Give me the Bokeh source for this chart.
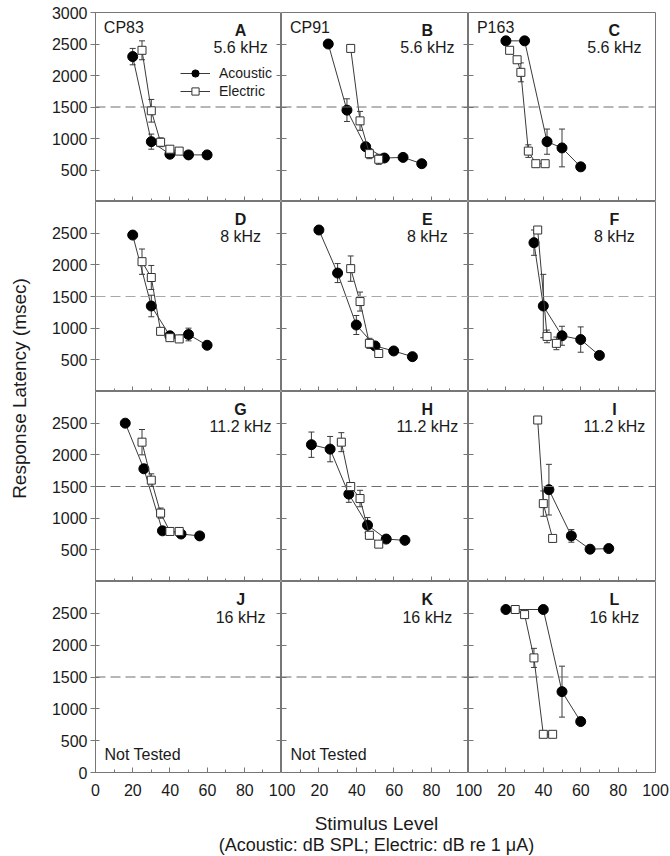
import math
from bokeh.plotting import figure
from bokeh.models import (LinearAxis, FixedTicker, Span, Label, Whisker, TeeHead,
                          ColumnDataSource, Range1d, Legend, LegendItem)
from bokeh.layouts import row, column
from bokeh.embed import file_html
from bokeh.resources import INLINE

# ---------------- data ----------------
subjects = ["CP83", "CP91", "P163"]
frequencies = ["5.6 kHz", "8 kHz", "11.2 kHz", "16 kHz"]
panel_letters = [["A", "B", "C"], ["D", "E", "F"], ["G", "H", "I"], ["J", "K", "L"]]
not_tested = ["J", "K"]
x_tick_values = [0, 20, 40, 60, 80, 100]
x_minor_values = [10, 30, 50, 70, 90]
x_tick_labels_col1 = ["0", "20", "40", "60", "80", "100"]
x_tick_labels_other = ["20", "40", "60", "80", "100"]
y_ticks_by_row = [[500, 1000, 1500, 2000, 2500, 3000],
                  [500, 1000, 1500, 2000, 2500],
                  [500, 1000, 1500, 2000, 2500],
                  [0, 500, 1000, 1500, 2000, 2500]]
y_inner_ticks = [500, 1000, 1500, 2000, 2500]
criterion_latency = 1500

# acoustic (filled circles) / electric (open squares); err = error bar half-length
A_ac_x = [20, 30, 40, 50, 60]
A_ac_y = [2300, 950, 750, 740, 740]
A_ac_err = [130, 120, 0, 0, 0]
A_el_x = [25, 30, 35, 40, 45]
A_el_y = [2400, 1440, 940, 830, 800]
A_el_err = [150, 180, 70, 0, 50]

B_ac_x = [25, 35, 45, 55, 65, 75]
B_ac_y = [2500, 1450, 870, 690, 700, 600]
B_ac_err = [0, 180, 0, 0, 0, 0]
B_el_x = [37, 42, 47, 52]
B_el_y = [2430, 1280, 760, 670]
B_el_err = [0, 150, 80, 80]

C_ac_x = [20, 30, 42, 50, 60]
C_ac_y = [2550, 2550, 950, 850, 550]
C_ac_err = [0, 0, 200, 300, 0]
C_el_x = [22, 26, 28, 32, 36, 41]
C_el_y = [2400, 2250, 2050, 800, 600, 600]
C_el_err = [0, 0, 150, 100, 0, 0]

D_ac_x = [20, 30, 40, 50, 60]
D_ac_y = [2470, 1350, 880, 900, 730]
D_ac_err = [0, 170, 0, 100, 0]
D_el_x = [25, 30, 35, 40, 45]
D_el_y = [2050, 1800, 950, 850, 830]
D_el_err = [200, 190, 0, 0, 0]

E_ac_x = [20, 30, 40, 50, 60, 70]
E_ac_y = [2550, 1870, 1050, 720, 640, 550]
E_ac_err = [0, 150, 150, 0, 0, 0]
E_el_x = [37, 42, 47, 52]
E_el_y = [1940, 1420, 760, 600]
E_el_err = [200, 150, 80, 0]

F_ac_x = [35, 40, 50, 60, 70]
F_ac_y = [2350, 1350, 880, 820, 570]
F_ac_err = [200, 500, 150, 200, 0]
F_el_x = [37, 42, 47]
F_el_y = [2550, 870, 760]
F_el_err = [0, 100, 100]

G_ac_x = [16, 26, 36, 46, 56]
G_ac_y = [2500, 1780, 800, 750, 720]
G_ac_err = [0, 0, 0, 0, 0]
G_el_x = [25, 30, 35, 40, 45]
G_el_y = [2200, 1600, 1080, 790, 790]
G_el_err = [200, 100, 80, 0, 0]

H_ac_x = [16, 26, 36, 46, 56, 66]
H_ac_y = [2160, 2090, 1380, 890, 670, 650]
H_ac_err = [200, 200, 130, 120, 0, 0]
H_el_x = [32, 37, 42, 47, 52]
H_el_y = [2200, 1500, 1310, 730, 590]
H_el_err = [150, 50, 130, 60, 0]

I_ac_x = [43, 55, 65, 75]
I_ac_y = [1450, 720, 510, 520]
I_ac_err = [400, 100, 0, 0]
I_el_x = [37, 40, 45]
I_el_y = [2550, 1230, 680]
I_el_err = [0, 200, 0]

L_ac_x = [20, 40, 50, 60]
L_ac_y = [2560, 2560, 1270, 800]
L_ac_err = [0, 0, 400, 0]
L_el_x = [25, 30, 35, 40, 45]
L_el_y = [2560, 2480, 1800, 600, 600]
L_el_err = [0, 0, 150, 0, 0]

panel_data = {
    "A": (A_ac_x, A_ac_y, A_ac_err, A_el_x, A_el_y, A_el_err),
    "B": (B_ac_x, B_ac_y, B_ac_err, B_el_x, B_el_y, B_el_err),
    "C": (C_ac_x, C_ac_y, C_ac_err, C_el_x, C_el_y, C_el_err),
    "D": (D_ac_x, D_ac_y, D_ac_err, D_el_x, D_el_y, D_el_err),
    "E": (E_ac_x, E_ac_y, E_ac_err, E_el_x, E_el_y, E_el_err),
    "F": (F_ac_x, F_ac_y, F_ac_err, F_el_x, F_el_y, F_el_err),
    "G": (G_ac_x, G_ac_y, G_ac_err, G_el_x, G_el_y, G_el_err),
    "H": (H_ac_x, H_ac_y, H_ac_err, H_el_x, H_el_y, H_el_err),
    "I": (I_ac_x, I_ac_y, I_ac_err, I_el_x, I_el_y, I_el_err),
    "L": (L_ac_x, L_ac_y, L_ac_err, L_el_x, L_el_y, L_el_err),
}

# ---------------- style ----------------
FONT = "Liberation Sans"
AX = "#777777"
TXT = "#1a1a1a"
LINE = "#3a3a3a"
col_w = [186, 187, 187]
row_h = [189, 190, 190, 191]
TOP_B = 12
BOT_B = 9
LEFT_B = 57
YT_W = 38
SW = 669
RIGHT_B = SW - YT_W - LEFT_B - sum(col_w)
dash_colors = ["#6e6e6e", "#a8a8a8", "#6e6e6e", "#6e6e6e"]


def hide_labels(ax):
    ax.major_label_text_color = None
    ax.major_label_text_font_size = "0px"


def bare_figure(w, h, **ranges):
    f = figure(width=w, height=h, x_axis_type=None, y_axis_type=None,
               toolbar_location=None, output_backend="svg", **ranges)
    f.min_border_left = 0
    f.min_border_right = 0
    f.min_border_top = 0
    f.min_border_bottom = 0
    f.title.visible = False
    f.outline_line_color = None
    return f


def add_whiskers(p, xs, ys, errs):
    bx = [x for x, e in zip(xs, errs) if e > 0]
    up = [y + e for y, e in zip(ys, errs) if e > 0]
    lo = [y - e for y, e in zip(ys, errs) if e > 0]
    if not bx:
        return
    src = ColumnDataSource(dict(base=bx, upper=up, lower=lo))
    w = Whisker(source=src, base="base", upper="upper", lower="lower",
                line_color=LINE, line_width=1,
                upper_head=TeeHead(size=6, line_color=LINE, line_width=1),
                lower_head=TeeHead(size=6, line_color=LINE, line_width=1))
    w.level = "underlay"
    p.add_layout(w)


def make_panel(r, c):
    left = LEFT_B if c == 0 else 0
    right = 2 if c == 2 else 0
    top = TOP_B if r == 0 else 0
    bottom = BOT_B if r == 3 else 0
    p = bare_figure(col_w[c] + left + right, row_h[r] + top + bottom,
                    x_range=Range1d(0, 100), y_range=Range1d(0, 3000))
    p.min_border_left = left
    p.min_border_right = right
    p.min_border_top = top
    p.min_border_bottom = bottom
    p.outline_line_color = AX
    p.outline_line_width = 1

    # bottom axis (ticks inward, labels drawn by the shared label strip)
    xa = LinearAxis(ticker=FixedTicker(ticks=x_tick_values, minor_ticks=x_minor_values),
                    fixed_location=0)
    hide_labels(xa)
    xa.axis_line_color = AX
    xa.major_tick_line_color = AX
    xa.minor_tick_line_color = AX
    xa.major_tick_in = 5
    xa.major_tick_out = 0
    xa.minor_tick_in = 3
    xa.minor_tick_out = 0
    p.add_layout(xa, "below")

    # left axis
    if c == 0:
        ya = LinearAxis(ticker=FixedTicker(ticks=y_ticks_by_row[r], minor_ticks=[]))
        ya.major_tick_in = 4
        ya.major_tick_out = 5
        ya.major_label_text_font = FONT
        ya.major_label_text_font_size = "16px"
        ya.major_label_text_color = TXT
        ya.major_label_standoff = 3
    else:
        ya = LinearAxis(ticker=FixedTicker(ticks=y_inner_ticks, minor_ticks=[]),
                        fixed_location=0)
        ya.major_tick_in = 5
        ya.major_tick_out = 0
        hide_labels(ya)
    ya.axis_line_color = AX
    ya.major_tick_line_color = AX
    ya.minor_tick_line_color = None
    p.add_layout(ya, "left")

    # right axis: ticks pointing into this panel (completes the crossing ticks)
    if c < 2:
        ra = LinearAxis(ticker=FixedTicker(ticks=y_inner_ticks, minor_ticks=[]),
                        fixed_location=100)
        ra.major_tick_in = 5
        ra.major_tick_out = 0
        ra.axis_line_color = AX
        ra.major_tick_line_color = AX
        ra.minor_tick_line_color = None
        hide_labels(ra)
        p.add_layout(ra, "right")

    # criterion line
    p.add_layout(Span(location=criterion_latency, dimension="width",
                      line_color=dash_colors[r], line_width=1, line_dash="10 5"))

    letter = panel_letters[r][c]
    p.add_layout(Label(x=78, y=2720, text=letter, text_align="center",
                       text_baseline="middle", text_font=FONT,
                       text_font_size="16px", text_font_style="bold",
                       text_color=TXT))
    p.add_layout(Label(x=78, y=2440, text=frequencies[r], text_align="center",
                       text_baseline="middle", text_font=FONT,
                       text_font_size="16px", text_color=TXT))
    if r == 0:
        p.add_layout(Label(x=4.5, y=2755, text=subjects[c], text_align="left",
                           text_baseline="middle", text_font=FONT,
                           text_font_size="16px", text_color=TXT))
    if letter in not_tested:
        p.add_layout(Label(x=4.8, y=285, text="Not Tested", text_align="left",
                           text_baseline="middle", text_font=FONT,
                           text_font_size="16px", text_color=TXT))

    if letter in panel_data:
        ax_, ay_, ae_, ex_, ey_, ee_ = panel_data[letter]
        add_whiskers(p, ax_, ay_, ae_)
        add_whiskers(p, ex_, ey_, ee_)
        l1 = p.line(ax_, ay_, line_color=LINE, line_width=1)
        s1 = p.scatter(ax_, ay_, marker="circle", size=10,
                       fill_color="black", line_color="black")
        l2 = p.line(ex_, ey_, line_color=LINE, line_width=1)
        s2 = p.scatter(ex_, ey_, marker="square", size=8,
                       fill_color="white", line_color="#333333", line_width=1)
        if letter == "A":
            leg = Legend(items=[LegendItem(label="Acoustic", renderers=[l1, s1]),
                                LegendItem(label="Electric", renderers=[l2, s2])],
                         location=(85, 101))
            leg.glyph_width = 30
            leg.glyph_height = 18
            leg.label_height = 18
            leg.label_standoff = 9
            leg.spacing = 0
            leg.padding = 0
            leg.margin = 0
            leg.border_line_color = None
            leg.background_fill_alpha = 0
            leg.label_text_font = FONT
            leg.label_text_font_size = "14px"
            leg.label_text_color = TXT
            p.add_layout(leg)
    return p


rows = []
for r in range(4):
    rows.append(row(*[make_panel(r, c) for c in range(3)]))
grid = column(*rows)

# y-axis title strip
total_h = sum(row_h) + TOP_B + BOT_B
yfig = bare_figure(YT_W, total_h, x_range=Range1d(0, 1), y_range=Range1d(0, 1))
yfig.add_layout(Label(x=19, y=total_h - 388, x_units="screen", y_units="screen",
                      text="Response Latency (msec)", angle=math.pi / 2,
                      text_align="center", text_baseline="alphabetic",
                      text_font=FONT, text_font_size="19px", text_color=TXT))

# shared strip of x tick labels for the three columns (0-100 | 0-100 | 0-100)
strip_ticks = list(x_tick_values)
strip_overrides = {t: lab for t, lab in zip(x_tick_values, x_tick_labels_col1)}
for k in (1, 2):
    for t, lab in zip(x_tick_values[1:], x_tick_labels_other):
        strip_ticks.append(100 * k + t)
        strip_overrides[100 * k + t] = lab
ST_H = 21
sfig = bare_figure(SW, ST_H, x_range=Range1d(0, 300), y_range=Range1d(0, 1))
sfig.min_border_left = YT_W + LEFT_B
sfig.min_border_right = RIGHT_B
sfig.min_border_bottom = ST_H - 1
sa = LinearAxis(ticker=FixedTicker(ticks=strip_ticks, minor_ticks=[]))
sa.major_label_overrides = strip_overrides
sa.axis_line_color = None
sa.major_tick_line_color = None
sa.minor_tick_line_color = None
sa.major_tick_in = 0
sa.major_tick_out = 0
sa.major_label_standoff = 1
sa.major_label_text_font = FONT
sa.major_label_text_font_size = "16px"
sa.major_label_text_color = TXT
sfig.add_layout(sa, "below")

# x-axis title strip (same horizontal frame as the panels: 0-300 over three columns)
XT_H = 856 - (total_h + ST_H)
xfig = bare_figure(SW, XT_H, x_range=Range1d(0, 300), y_range=Range1d(0, 1))
xfig.min_border_left = YT_W + LEFT_B
xfig.min_border_right = RIGHT_B
xfig.add_layout(Label(x=150.5, y=XT_H - 21, y_units="screen",
                      text="Stimulus Level", text_align="center",
                      text_baseline="middle", text_font=FONT,
                      text_font_size="19px", text_color=TXT))
xfig.add_layout(Label(x=150.5, y=XT_H - 42, y_units="screen",
                      text="(Acoustic: dB SPL; Electric: dB re 1 \u03bcA)",
                      text_align="center", text_baseline="middle", text_font=FONT,
                      text_font_size="18px", text_color=TXT))

layout = column(row(yfig, grid), sfig, xfig)
open("out.html", "w").write(file_html(layout, INLINE))
